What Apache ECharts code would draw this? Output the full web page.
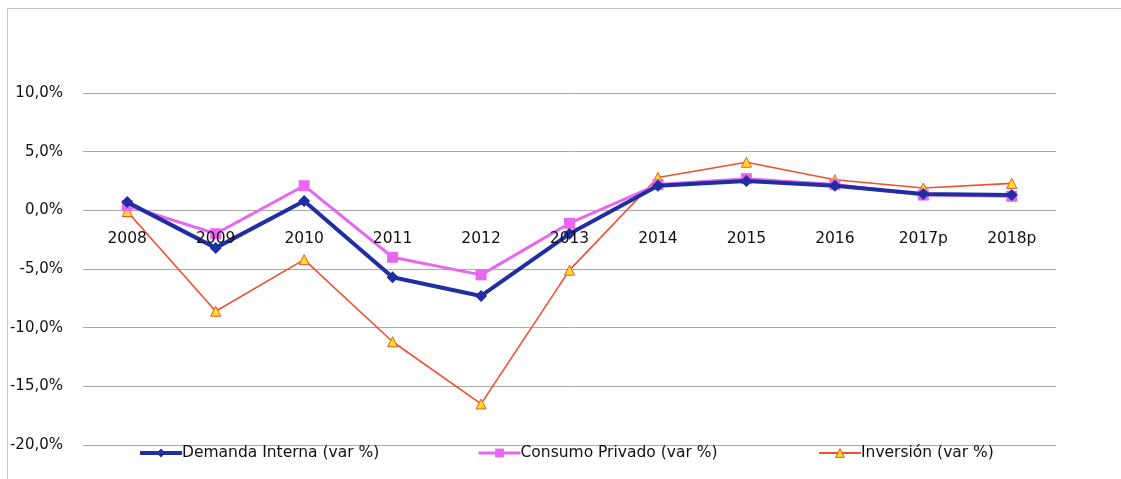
<!DOCTYPE html>
<html>
<head>
<meta charset="utf-8">
<script src="https://cdn.jsdelivr.net/npm/echarts@6/dist/echarts.min.js"></script>
<style>
  html, body { margin: 0; padding: 0; background: #fff; }
  .frame {
    position: absolute;
    left: 7px;
    top: 8px;
    width: 1114px;
    height: 471px;
    border-top: 1px solid #c4c4c4;
    border-left: 1px solid #c4c4c4;
  }
  #chart { width: 1121px; height: 479px; }
</style>
</head>
<body>
<div class="frame"></div>
<div id="chart"></div>
<script>
const years = ["2008", "2009", "2010", "2011", "2012", "2013", "2014", "2015", "2016", "2017p", "2018p"];
const demandaInterna = [0.7, -3.2, 0.8, -5.7, -7.3, -2.0, 2.1, 2.5, 2.1, 1.4, 1.3];
const consumoPrivado = [0.4, -2.0, 2.1, -4.0, -5.5, -1.1, 2.2, 2.7, 2.2, 1.3, 1.2];
const inversion = [-0.1, -8.6, -4.2, -11.2, -16.5, -5.1, 2.8, 4.1, 2.6, 1.9, 2.3];

const names = ["Demanda Interna (var %)", "Consumo Privado (var %)", "Inversión (var %)"];
const font = "DejaVu Sans";

function legendAt(left, name, lineWidth, itemStyle) {
  return {
    data: [name],
    left: left,
    top: 440,
    itemWidth: 42,
    itemHeight: 11,
    lineStyle: { width: lineWidth },
    itemStyle: itemStyle,
    textStyle: { fontFamily: font, fontSize: 15.5, color: "#111", padding: [0, 0, 0, -5] },
  };
}

const option = {
  animation: false,
  grid: { left: 83, right: 65, top: 93, bottom: 34 },
  legend: [
    legendAt(133, names[0], 4, {}),
    legendAt(472, names[1], 3, {}),
    legendAt(813, names[2], 2, { color: "#ffe01a", borderColor: "#f0502f", borderWidth: 1 }),
  ],
  xAxis: {
    type: "category",
    data: years,
    position: "bottom",
    offset: -233, // labels sit just under the 0% line
    z: 10,
    axisLine: { show: false },
    axisTick: { show: false },
    axisLabel: { margin: 19, fontFamily: font, fontSize: 15.5, color: "#111" },
  },
  yAxis: {
    type: "value",
    min: -20,
    max: 10,
    interval: 5,
    axisLine: { show: false },
    axisTick: { show: false },
    axisLabel: {
      margin: 20,
      fontFamily: font,
      fontSize: 15,
      color: "#111",
      formatter: (v) => v.toFixed(1).replace(".", ",") + "%",
    },
    splitLine: { lineStyle: { color: "#a9a9a9", width: 1 } },
  },
  series: [
    {
      name: names[2],
      type: "line",
      data: inversion,
      symbol: "triangle",
      symbolSize: 10,
      z: 2,
      lineStyle: { color: "#f0502f", width: 1.6 },
      itemStyle: { color: "#ffe01a", borderColor: "#f0502f", borderWidth: 1 },
    },
    {
      name: names[1],
      type: "line",
      data: consumoPrivado,
      symbol: "rect",
      symbolSize: 11,
      z: 3,
      lineStyle: { color: "#e866f2", width: 3 },
      itemStyle: { color: "#e866f2" },
    },
    {
      name: names[0],
      type: "line",
      data: demandaInterna,
      symbol: "diamond",
      symbolSize: 12,
      z: 4,
      lineStyle: { color: "#1f2ea0", width: 4 },
      itemStyle: { color: "#1f2ea0" },
    },
  ],
};

echarts.init(document.getElementById("chart"), null, { renderer: "canvas" }).setOption(option);
</script>
</body>
</html>
